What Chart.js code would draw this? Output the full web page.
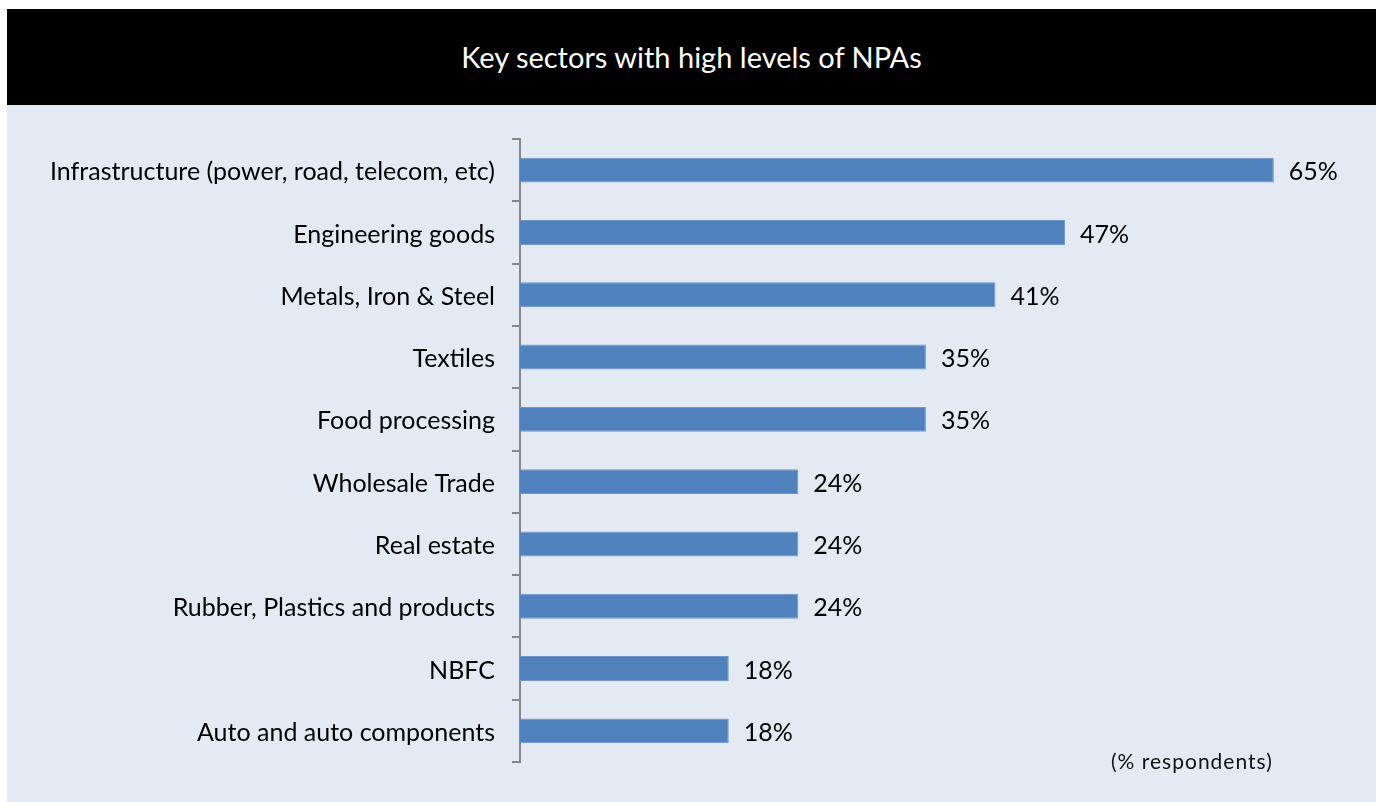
<!DOCTYPE html>
<html>
<head>
<meta charset="utf-8">
<title>Key sectors with high levels of NPAs</title>
<script src="https://cdn.jsdelivr.net/npm/chart.js@4.4.1/dist/chart.umd.min.js"></script>
<style>
  html, body { margin: 0; padding: 0; background: #fff; }
  body { width: 1376px; height: 802px; position: relative; overflow: hidden; font-family: Lato, 'Open Sans', sans-serif; }
  #header { position: absolute; left: 7px; top: 9px; width: 1369px; height: 96px; background: #000; color: #fff; font-size: 29px; line-height: 96px; text-align: center; }
  #panel { position: absolute; left: 7px; top: 105px; width: 1369px; height: 697px; background: #e3eaf4; }
  #chart { position: absolute; left: 0; top: 0; }
  #note { position: absolute; left: 1104px; top: 643px; font-size: 21px; letter-spacing: 1px; color: #111; }
</style>
</head>
<body>
<div id="header">Key sectors with high levels of NPAs</div>
<div id="panel">
  <canvas id="chart" width="1369" height="697"></canvas>
  <div id="note">(% respondents)</div>
</div>
<script>
'use strict';

const sectors = [
  'Infrastructure (power, road, telecom, etc)',
  'Engineering goods',
  'Metals, Iron & Steel',
  'Textiles',
  'Food processing',
  'Wholesale Trade',
  'Real estate',
  'Rubber, Plastics and products',
  'NBFC',
  'Auto and auto components',
];
const shares = [65, 47, 41, 35, 35, 24, 24, 24, 18, 18];

const axisGrey = '#878787';
const labelFont = { family: 'Lato', size: 25 };

// percentage text to the right of each bar
const valueLabels = {
  id: 'valueLabels',
  afterDatasetsDraw(chart) {
    const { ctx } = chart;
    const meta = chart.getDatasetMeta(0);
    ctx.save();
    ctx.font = `${labelFont.size}px ${labelFont.family}`;
    ctx.fillStyle = '#000';
    ctx.textBaseline = 'middle';
    meta.data.forEach((bar, i) => {
      ctx.fillText(shares[i] + '%', bar.x + 15, bar.y + 2);
    });
    ctx.restore();
  },
};

new Chart(document.getElementById('chart'), {
  type: 'bar',
  data: {
    labels: sectors,
    datasets: [{
      data: shares,
      backgroundColor: '#4f81bd',
      borderColor: '#6f98c9',
      borderWidth: 1,
      barPercentage: 0.4,
      categoryPercentage: 1,
    }],
  },
  options: {
    indexAxis: 'y',
    responsive: false,
    animation: false,
    devicePixelRatio: 1,
    layout: { padding: { top: 34, bottom: 40, left: 0, right: 21 } },
    plugins: { legend: { display: false }, tooltip: { enabled: false } },
    scales: {
      x: { min: 0, max: 72, display: false },
      y: {
        afterFit: (s) => { s.width = 513; },
        grid: { offset: true, drawOnChartArea: false, drawTicks: true, tickLength: 8, color: axisGrey, lineWidth: 2 },
        border: { display: true, color: axisGrey, width: 2 },
        ticks: { padding: 17, labelOffset: 2, color: '#000', font: labelFont },
      },
    },
  },
  plugins: [valueLabels],
});
</script>
</body>
</html>
